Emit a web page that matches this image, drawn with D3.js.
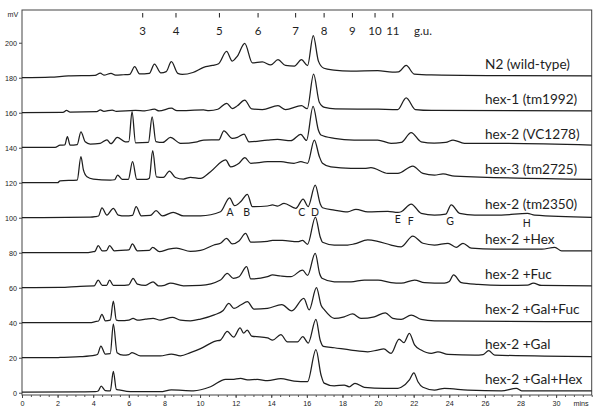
<!DOCTYPE html>
<html><head><meta charset="utf-8">
<script src="https://cdn.jsdelivr.net/npm/d3@7"></script>
<style>body{margin:0;background:#fff}</style>
</head><body><svg id="c" width="600" height="419"></svg>
<script>
// ---- data ----
const traceNames = ["N2 (wild-type)","hex-1 (tm1992)","hex-2 (VC1278)","hex-3 (tm2725)","hex-2 (tm2350)","hex-2 +Hex","hex-2 +Fuc","hex-2 +Gal+Fuc","hex-2 +Gal","hex-2 +Gal+Hex"];
const baselines = [180,160,140,120,100,80,60,40,20,0];

const traceN2 = [[0,180],[1.6,180.3],[2.6,181],[4.1,181.3],[4.4,182.6],[4.6,181.5],[5.0,182.5],[5.25,181.5],[5.7,181.7],[6.05,181.9],[6.33,186.3],[6.6,182.2],[7.15,182.5],[7.44,187.8],[7.8,182.8],[8.1,183.5],[8.39,189.2],[8.75,182.5],[9.0,181.9],[9.6,183],[10.2,185.9],[10.7,187],[11.04,188],[11.49,195],[11.81,189.5],[12.1,192.4],[12.51,199.7],[12.94,188.5],[13.5,189],[13.97,187.3],[14.38,190.3],[14.8,187],[15.3,186.7],[15.7,190.3],[16.04,186.9],[16.36,204],[16.65,189.5],[16.96,185.4],[17.52,184.4],[18.48,183.8],[19.98,184],[20.8,183.2],[21.15,183.3],[21.58,187],[22.03,182.1],[23,181.6],[27,181.2],[32,181]];
const traceHex1 = [[0,160],[2.3,160.2],[2.5,161.3],[2.7,160.4],[4.2,160.6],[4.4,161.6],[4.6,160.8],[5.07,161.5],[5.3,160.8],[6.37,161.3],[6.9,161.1],[7.44,162],[7.7,161],[8.39,162.6],[8.7,161.2],[10.2,161.6],[10.5,161.2],[11.0,162],[11.5,165.4],[11.81,162.4],[12.1,164],[12.51,167.2],[12.9,162.2],[13.5,161.8],[14.38,164],[14.8,161.8],[15.7,164],[16.02,162.3],[16.38,182],[16.7,166],[17.0,163],[17.6,162.2],[20,162],[21.1,161.8],[21.58,168.5],[22.1,161.8],[23,161.3],[32,161]];
const traceVC1278 = [[0,140.2],[1.86,140.2],[2.14,141.5],[2.4,141.6],[2.55,146.3],[2.7,141.5],[3.1,141.8],[3.31,149.1],[3.55,143.4],[3.83,142.1],[4.39,142.5],[4.77,144.5],[5.0,142.3],[5.35,145.9],[5.8,143.4],[6.0,143.5],[6.18,160.6],[6.38,142.8],[7.1,143],[7.31,157.7],[7.52,143.5],[7.9,143],[8.34,145.9],[8.9,142.5],[9.84,143.4],[10.21,144.4],[11.06,144.5],[11.34,149.7],[11.81,145.4],[12.1,145.9],[12.47,147.8],[12.75,143.4],[13.79,144.4],[14.35,144.8],[15.1,144],[15.66,147.7],[15.98,144.2],[16.35,163.6],[16.65,150],[16.79,147.3],[17.54,145.4],[18.65,144.4],[19.98,144.4],[20.73,142.5],[21.3,143],[21.86,148.6],[22.42,143.4],[23.15,142.7],[23.8,143],[24.21,144.4],[24.85,142.5],[26.93,142.5],[32,141.5]];
const traceHex3 = [[0,120],[2.0,120],[2.14,121.1],[3.1,121.5],[3.31,134.9],[3.45,127.3],[3.65,123.4],[4.0,122.1],[4.96,121.5],[5.2,121.7],[5.37,124.4],[5.63,121.9],[5.97,121.9],[6.21,132],[6.45,121.9],[6.99,121.9],[7.15,122.5],[7.34,138.3],[7.55,123.4],[7.94,123],[8.28,126.7],[8.62,123],[9.07,122.1],[9.46,123.1],[10.03,122.5],[10.59,126.3],[11.44,133],[11.72,129.1],[12.19,131.1],[12.52,134.3],[12.85,131.1],[13.79,132],[14.54,132],[15.28,131.1],[15.66,132],[16.04,131.1],[16.42,144.4],[16.7,135],[16.88,131.1],[17.35,129],[18.48,128.2],[19.23,128.2],[19.6,128.6],[20.55,125.3],[21.11,125.3],[21.95,129.5],[22.52,125.3],[23.17,124.4],[23.65,125],[24.3,123.8],[32,121.9]];
const traceTm2350 = [[0,100],[3.83,100.3],[4.11,100.6],[4.3,101],[4.49,105.7],[4.77,101.5],[5.13,105.4],[5.41,101.5],[5.8,101],[6.2,101.3],[6.41,106.3],[6.7,101.1],[7.21,101.3],[7.53,104],[7.89,101],[8.49,103.1],[9.07,101],[10.03,101.1],[11.15,103.4],[11.66,111.4],[11.94,106.9],[12.28,109.1],[12.66,113.4],[12.94,106.3],[13.79,106.7],[14.07,107.3],[14.35,106.7],[14.72,108.2],[15.38,105.4],[15.79,110.7],[16.07,106.4],[16.47,118.7],[16.75,108],[16.88,105.7],[17.54,104.4],[18.29,103.4],[18.76,104.8],[19.42,103.4],[20.55,103.6],[21.11,103],[21.3,103.4],[21.86,107.8],[22.42,102.5],[23.17,101.5],[23.8,102],[24.11,107.3],[24.58,102.5],[25.43,101.5],[26.93,101.5],[28.39,102.5],[28.79,101.5],[32,100.2]];
const traceHex = [[0,80],[3.55,80],[4.0,80.6],[4.1,80.8],[4.28,84.1],[4.51,81.1],[4.75,81.2],[4.92,84.1],[5.18,81.1],[5.8,81.5],[6.0,81.6],[6.2,85],[6.48,81.1],[7.15,81.3],[7.34,83.1],[7.72,80.6],[8.23,82],[8.68,82.6],[9.46,80.8],[10.03,81.3],[10.78,84.4],[11.15,85.4],[11.49,88.2],[11.81,85],[12.19,86.7],[12.56,91],[12.85,86],[13.79,86.5],[14.07,87],[14.63,87],[15.48,86.3],[15.76,87],[16.04,84.8],[16.48,100.4],[16.75,89],[16.88,86],[17.54,84.4],[18.29,84.4],[18.66,85],[19.42,87.3],[19.98,86.5],[20.73,84.4],[21.3,83.4],[21.95,89.5],[22.52,85.4],[23.17,84.4],[23.93,85.4],[24.39,83.1],[24.77,85.4],[25.24,82.6],[26.55,82],[29.2,82],[29.93,83.1],[30.31,81],[32,81.1]];
const traceFuc = [[0,60],[2.14,60.2],[3.27,60.8],[4.05,61],[4.28,64.4],[4.51,61.3],[4.75,61.4],[4.92,64.4],[5.13,61.3],[5.52,61.3],[6.0,61.6],[6.24,65.4],[6.48,62.1],[6.93,61.3],[7.36,63.4],[7.66,61.1],[8.0,61.4],[8.34,62.7],[9.07,61.1],[10.03,61.3],[11.15,64.4],[11.53,68.2],[11.87,65.4],[12.19,66.3],[12.62,72],[12.85,65],[13.79,66.3],[14.07,67.3],[14.54,66.7],[15.1,66.3],[15.76,70.1],[16.04,67],[16.47,79.7],[16.72,68],[16.85,65.4],[17.54,63.4],[18.48,63.4],[19.23,64.4],[20.0,64.4],[20.73,62.9],[21.3,62.6],[22.05,64.4],[22.61,62.9],[23.73,62.6],[24.0,63.5],[24.24,67.3],[24.68,62.9],[25.62,61.9],[26.93,61.3],[28.4,61.5],[28.72,62.6],[29.18,61.3],[32,61.1]];
const traceGalFuc = [[0,40],[3.83,40],[4.11,40.6],[4.3,41],[4.49,44.8],[4.68,41.1],[4.96,41.5],[5.13,52.4],[5.3,41.5],[5.52,41.2],[6.0,41.5],[6.24,42.5],[6.48,41.5],[6.93,42],[7.36,42.5],[7.77,41.5],[8.45,43.1],[8.9,41.5],[9.46,41.1],[10.03,42.1],[10.8,44.5],[11.3,47],[11.62,51],[11.9,48.2],[12.28,50.1],[12.66,52],[13.03,47.8],[13.79,48.2],[14.59,50.4],[15.15,46.8],[15.83,53.9],[16.13,47.3],[16.54,60],[16.8,50],[16.99,47.3],[17.54,42.5],[18.1,43.4],[18.57,45],[19.04,42.5],[19.79,43.4],[20.41,45.7],[20.83,42.5],[21.3,41.9],[21.86,44.4],[22.42,41.9],[23.17,41.1],[32,40.6]];
const traceGal = [[0,20],[1.86,20],[2.14,20.2],[3.27,20.6],[4.11,21.5],[4.25,22],[4.43,26.7],[4.68,22.1],[4.96,22.3],[5.13,39.3],[5.34,22.9],[5.69,21.5],[6.0,21.8],[6.18,22.9],[6.65,21],[7.77,21],[8.39,22.1],[8.9,21.1],[9.46,22.9],[10.03,25.2],[10.87,29.5],[11.15,30.1],[11.53,35],[11.89,31.8],[12.25,37.1],[12.45,34],[12.65,35.8],[12.9,32.4],[13.79,31.3],[14.08,30.1],[14.54,33.2],[14.91,29.1],[15.48,29.1],[15.77,32],[16.08,28.4],[16.51,41.9],[16.75,30],[16.93,26.5],[17.54,25.7],[18.48,24.4],[19.42,23.4],[19.98,24.4],[20.32,25],[20.73,22.5],[21.18,30.7],[21.45,28.6],[21.76,33.9],[22.05,27.3],[22.42,24.4],[22.99,22.5],[23.36,23.4],[23.93,21.9],[25.43,21.5],[25.9,21.8],[26.21,24],[26.55,21.5],[32,20.6]];
const traceGalHex = [[0,0.3],[3.27,0.5],[4.11,0.6],[4.28,1],[4.45,3.8],[4.68,1.2],[4.96,1],[5.13,12.2],[5.3,1.9],[5.45,1.6],[6.08,0.6],[7.77,0.6],[8.39,1.6],[9.63,1.1],[10.59,3.4],[11.44,7.7],[11.8,7.6],[12.28,8.2],[12.66,7.3],[13.22,7.6],[13.79,6.9],[14.54,8],[15.28,6.6],[16.04,6.3],[16.51,24.6],[16.8,10],[16.97,5.5],[17.54,3.9],[18.1,4.4],[18.38,3.4],[18.7,5.4],[19.23,3.1],[20.35,2.5],[21.11,2.5],[21.3,3.1],[21.76,7.3],[22.01,11.4],[22.24,6.3],[22.52,3.1],[23.17,1.5],[23.73,2.5],[25.05,1.5],[26.93,1.1],[27.77,2.5],[28.06,1.1],[32,1.1]];
const traces = [traceN2,traceHex1,traceVC1278,traceHex3,traceTm2350,traceHex,traceFuc,traceGalFuc,traceGal,traceGalHex];

const xTicks = d3.range(0, 31, 2);
const xMinorTicks = d3.range(0, 32.01, 0.5);
const yTicks = [0,20,40,60,80,100,120,140,160,180,200];
const guLabels = ["3","4","5","6","7","8","9","10","11"];
const guTimes = [6.78,8.65,11.09,13.26,15.37,16.97,18.56,19.83,20.83];
const peakLetters = ["A","B","C","D","E","F","G","H"];
const peakTimes = [11.69,12.62,15.71,16.46,21.11,21.84,24.04,28.35];
const peakLevels = [103.4,103.4,103.4,103.4,99.1,98.3,98.3,97.1];

// ---- chart ----
const svg = d3.select("#c");
const x = d3.scaleLinear().domain([0, 32]).range([22, 591.7]);
const y = d3.scaleLinear().domain([-1.3, 218.7]).range([395, 10]);
const ink = "#1e1e1e";

// frame
svg.append("rect").attr("x",22).attr("y",10).attr("width",569.7).attr("height",385)
  .attr("fill","none").attr("stroke","#444").attr("stroke-width",1);

// axes
const fTick = "Liberation Sans, Arial, sans-serif";
const yAx = svg.append("g").attr("transform","translate(22,0)")
  .call(d3.axisLeft(y).tickValues(yTicks).tickSize(3).tickPadding(2).tickFormat(d3.format("d")));
yAx.select(".domain").remove();
yAx.selectAll("text").attr("font-family",fTick).attr("font-size",7.2).attr("fill","#222");
yAx.selectAll("line").attr("stroke","#444");

const xMin = svg.append("g").attr("transform","translate(0,395)")
  .call(d3.axisBottom(x).tickValues(xMinorTicks).tickSize(2).tickFormat(""));
xMin.select(".domain").remove();
xMin.selectAll("line").attr("stroke","#555");
const xAx = svg.append("g").attr("transform","translate(0,395)")
  .call(d3.axisBottom(x).tickValues(xTicks).tickSize(3).tickPadding(2.5).tickFormat(d3.format("d")));
xAx.select(".domain").remove();
xAx.selectAll("text").attr("font-family",fTick).attr("font-size",7.2).attr("fill","#222");
xAx.selectAll("line").attr("stroke","#444");

svg.append("text").attr("x",13).attr("y",17).attr("text-anchor","middle")
  .attr("font-family",fTick).attr("font-size",7.2).attr("fill","#222").text("mV");
svg.append("text").attr("x",581).attr("y",405.5).attr("text-anchor","middle")
  .attr("font-family",fTick).attr("font-size",7.2).attr("fill","#222").text("mins");

// g.u. scale
const fLab = "Lato, 'Open Sans', sans-serif";
guTimes.forEach((t,i)=>{
  svg.append("line").attr("x1",x(t)).attr("x2",x(t)).attr("y1",13).attr("y2",17.5)
    .attr("stroke",ink).attr("stroke-width",1);
  svg.append("text").attr("x",x(t)).attr("y",35).attr("text-anchor","middle")
    .attr("font-family",fLab).attr("font-size",11.5).attr("fill",ink).text(guLabels[i]);
});
svg.append("text").attr("x",423).attr("y",35).attr("text-anchor","middle")
  .attr("font-family",fLab).attr("font-size",11.5).attr("fill",ink).text("g.u.");

// traces
const line = d3.line().x(d=>x(d[0])).y(d=>y(d[1])).curve(d3.curveMonotoneX);
svg.append("g").selectAll("path").data(traces).join("path")
  .attr("d",line).attr("fill","none").attr("stroke",ink).attr("stroke-width",1.25)
  .attr("stroke-linejoin","round");

// trace labels
svg.append("g").selectAll("text").data(traceNames).join("text")
  .attr("x",485).attr("y",(d,i)=>y(baselines[i]+5))
  .attr("font-family",fLab).attr("font-size",13.6).attr("fill",ink).text(d=>d);

// peak letters
svg.append("g").selectAll("text").data(peakLetters).join("text")
  .attr("x",(d,i)=>x(peakTimes[i])).attr("y",(d,i)=>y(peakLevels[i]))
  .attr("text-anchor","middle").attr("dominant-baseline","central")
  .attr("font-family",fLab).attr("font-size",10.5).attr("fill",ink).text(d=>d);
</script></body></html>
